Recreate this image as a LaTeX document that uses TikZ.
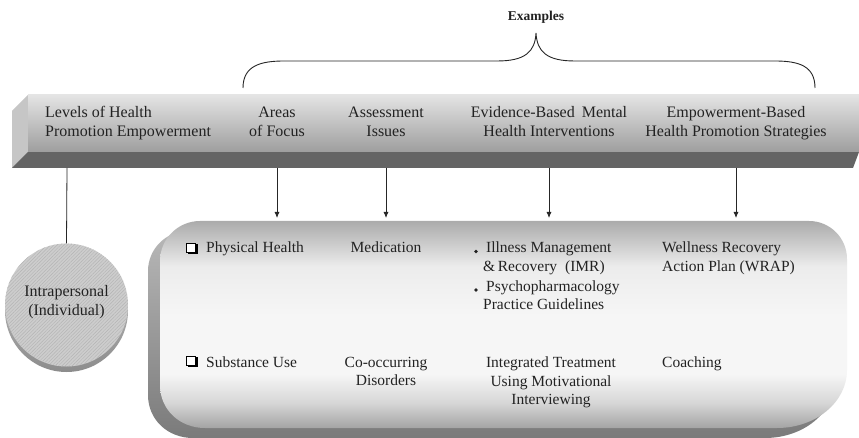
\documentclass[tikz,border=0pt]{standalone}
\usepackage{fontspec}
\setmainfont{Liberation Serif}
\usetikzlibrary{arrows.meta,patterns.meta}
\definecolor{txt}{HTML}{222222}
\definecolor{bxA}{HTML}{A4A4A4}
\definecolor{bxB}{HTML}{D6D6D6}
\definecolor{bxC}{HTML}{F6F6F6}
\definecolor{bxD}{HTML}{ECECEC}
\definecolor{bxE}{HTML}{ABABAB}
\definecolor{barTop}{HTML}{E4E4E4}
\definecolor{barBot}{HTML}{9E9E9E}
\definecolor{barDark}{HTML}{646464}
\definecolor{barSide}{HTML}{C6C6C6}
\definecolor{discFace}{HTML}{CDCDCD}
\definecolor{discHatch}{HTML}{B4B4B4}
\pgfdeclareverticalshading{boxshade}{100bp}{color(0bp)=(bxA); color(25bp)=(bxA); color(31bp)=(bxB); color(38bp)=(bxC); color(52bp)=(bxC); color(64bp)=(bxD); color(75bp)=(bxE); color(100bp)=(bxE)}
\newcommand\fsbar{\fontsize{16}{19}\selectfont}
\newcommand\fsbx{\fontsize{15.5}{18.7}\selectfont}
\newcommand\fsex{\bfseries\fontsize{13.5}{16}\selectfont}
\begin{document}
\begin{tikzpicture}[x=1pt,y=-1pt,
  bl/.style={font=\fsbar, text=txt, inner sep=0pt, anchor=base},
  blw/.style={bl, anchor=base west},
  lb/.style={font=\fsbx, text=txt, inner sep=0pt, anchor=base},
  lbw/.style={lb, anchor=base west},
  conn/.style={draw=black!85, line width=0.8pt},
  arr/.style={conn, -{Latex[length=6pt,width=5pt]}},
  chk/.style={draw=black, fill=white, line width=0.7pt},
  chkshadow/.style={draw=black, line width=1.6pt},
  dot/.style={fill=txt}]
\useasboundingbox (0,0) rectangle (859,438);
\fill[white] (0,0) rectangle (859,438);

% ---- Examples brace
\node[font=\fsex, text=txt, inner sep=0pt, anchor=base] (ex) at (536,21) {Examples};
\draw[draw=black!85, line width=0.9pt]
  (243,88) .. controls (243,66) and (260,61) .. (284,61) -- (497,61)
  .. controls (525,61) and (535,52) .. (536,33)
  .. controls (537,52) and (547,61) .. (575,61) -- (775,61)
  .. controls (799,61) and (815,66) .. (815,88);

% ---- top bar
\fill[barSide] (28,95) -- (28,152) -- (12,168) -- (12,111) -- cycle;
\fill[barDark] (28,152) -- (859,152) -- (853,168) -- (12,168) -- cycle;
\shade[top color=barTop, bottom color=barBot] (28,95) rectangle (859,152);

\node[blw] (lv1) at (45,118) {Levels of Health};
\node[blw] (lv2) at (45,137) {Promotion Empowerment};
\node[bl] (af1) at (277,118) {Areas};
\node[bl] (af2) at (277,137) {of Focus};
\node[bl] (as1) at (386,118) {Assessment};
\node[bl] (as2) at (386,137) {Issues};
\node[bl] (eb1) at (549,118) {Evidence-Based\hspace{3pt} Mental};
\node[bl] (eb2) at (549,137) {Health Interventions};
\node[bl] (em1) at (736,118) {Empowerment-Based};
\node[bl] (em2) at (736,137) {Health Promotion Strategies};

% ---- rounded box (depth then front)
\begin{scope}[shift={(-12,10)}]
\shade[top color=black!28, bottom color=black!52]
  (200,221) -- (809,221) .. controls (830,221) and (847,238) .. (847,259)
  -- (847,370) .. controls (847,402) and (816,428) .. (777,428)
  -- (205,428) .. controls (180,428) and (160,410) .. (160,385)
  -- (160,261) .. controls (160,239) and (178,221) .. (200,221) -- cycle;
\end{scope}
\shade[shading=boxshade]
  (200,221) -- (809,221) .. controls (830,221) and (847,238) .. (847,259)
  -- (847,370) .. controls (847,402) and (816,428) .. (777,428)
  -- (205,428) .. controls (180,428) and (160,410) .. (160,385)
  -- (160,261) .. controls (160,239) and (178,221) .. (200,221) -- cycle;

% ---- disc
\shade[top color=black!22, bottom color=black!45] (66.5,310.5) circle[radius=61.5];
\node[circle, minimum size=123pt, inner sep=0pt, fill=discFace,
      postaction={pattern={Lines[angle=45,distance=2.4pt,line width=0.45pt]}, pattern color=discHatch}] (disc) at (66.5,305) {};
\node[lb, font=\fontsize{16}{19}\selectfont] (ip1) at (66.5,297) {Intrapersonal};
\node[lb, font=\fontsize{16}{19}\selectfont] (ip2) at (66.5,315) {(Individual)};

% ---- connectors
\coordinate (s0) at (67,168);
\coordinate (s1) at (277,168);
\coordinate (s2) at (386,168);
\coordinate (s3) at (549,168);
\coordinate (s4) at (736,168);
\coordinate (t1) at (277,218);
\coordinate (t2) at (386,218);
\coordinate (t3) at (549,218);
\coordinate (t4) at (736,218);
\draw[conn] (s0) -- (disc.north);
\draw[arr] (s1) -- (t1);
\draw[arr] (s2) -- (t2);
\draw[arr] (s3) -- (t3);
\draw[arr] (s4) -- (t4);

% ---- row 1
\draw[chkshadow] (187.5,253.2) -- (196.8,253.2) -- (196.8,244);
\draw[chk] (186,243) rectangle (195.5,252.2);
\node[lbw] (ph) at (206,253) {Physical Health};
\node[lb] (med) at (386,253) {Medication};
\fill[dot] (476,251.5) circle[radius=1.8];
\node[lbw] (imr1) at (486,253) {Illness Management};
\node[lbw] (imr2) at (483,272) {\&\,Recovery\hspace{4pt} (IMR)};
\fill[dot] (476,290) circle[radius=1.8];
\node[lbw] (ppg1) at (486,291) {Psychopharmacology};
\node[lbw] (ppg2) at (483,309) {Practice Guidelines};
\node[lbw] (wr1) at (662,253) {Wellness Recovery};
\node[lbw] (wr2) at (662,272) {Action Plan (WRAP)};

% ---- row 2
\draw[chkshadow] (187.5,366.2) -- (196.8,366.2) -- (196.8,357);
\draw[chk] (186,356) rectangle (195.5,365.2);
\node[lbw] (su) at (206,367) {Substance Use};
\node[lb] (co1) at (386,367) {Co-occurring};
\node[lb] (co2) at (386,385) {Disorders};
\node[lb] (it1) at (551,367) {Integrated Treatment};
\node[lb] (it2) at (551,386) {Using Motivational};
\node[lb] (it3) at (551,404) {Interviewing};
\node[lbw] (coa) at (662,367) {Coaching};
\end{tikzpicture}
\end{document}
